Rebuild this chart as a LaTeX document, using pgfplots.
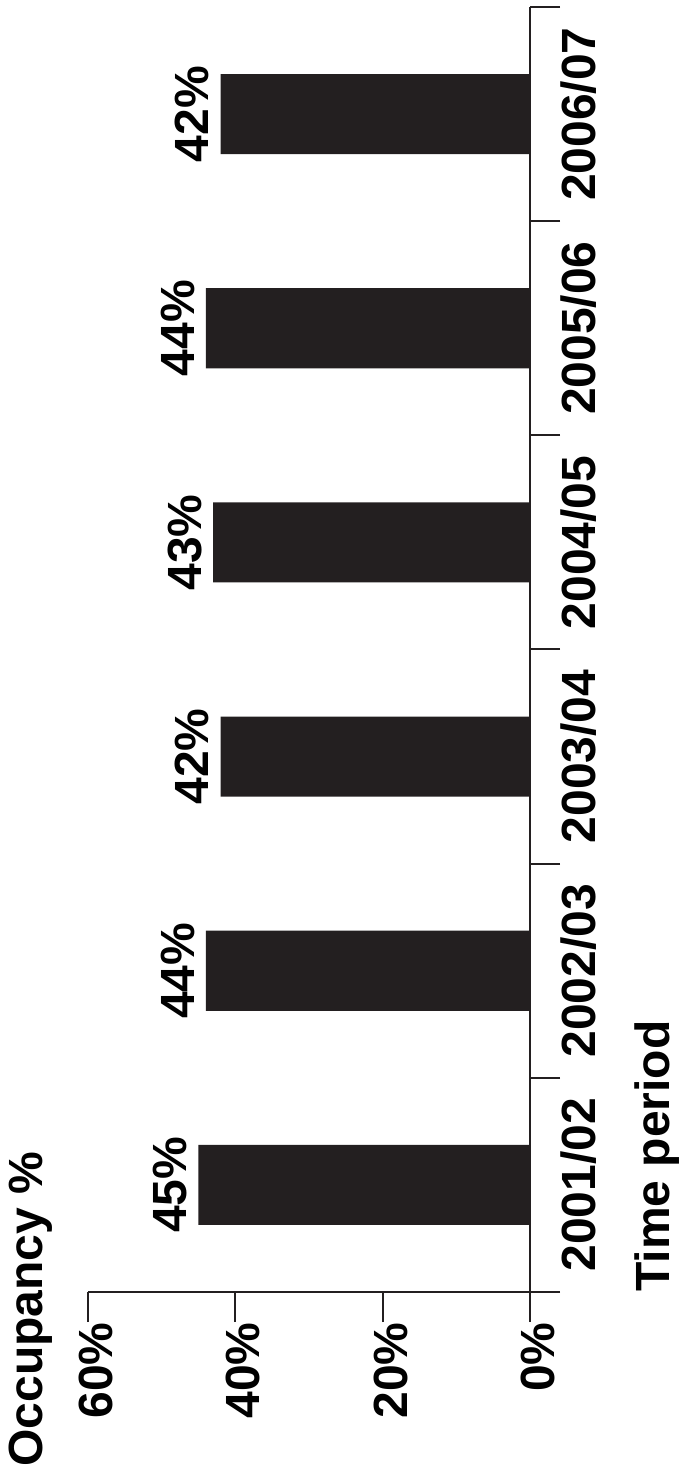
\documentclass[border=0pt]{standalone}
\usepackage{pgfplots}
\pgfplotsset{compat=1.18}
\usepackage{fontspec}
\setmainfont{Liberation Sans}
\definecolor{barblack}{HTML}{231F20}
\begin{document}
\begin{tikzpicture}[font=\fontsize{24}{28}\selectfont\bfseries]
\begin{axis}[
  xbar,
  scale only axis,
  width=221pt, height=642.5pt,
  x dir=reverse,
  xmin=0, xmax=60,
  ymin=-0.5, ymax=5.5,
  axis x line*=bottom,
  axis y line*=right,
  axis line style={line width=1pt, color=barblack},
  xtick={0,20,40,60},
  xticklabels={0\%,20\%,40\%,60\%},
  ytick={-0.5,0.5,...,5.5},
  yticklabels={2001/02,2002/03,2003/04,2004/05,2005/06,2006/07},
  y tick label as interval,
  tick align=outside,
  major tick length=15pt,
  tick style={line width=1pt, color=barblack},
  xticklabel style={rotate=90, anchor=east, inner sep=0pt, yshift=-4pt},
  yticklabel style={rotate=90, anchor=north, inner sep=0pt},
  bar width=0.374,
  nodes near coords={\pgfmathprintnumber{\pgfplotspointmeta}\%},
  nodes near coords style={rotate=90, anchor=south, inner sep=5.5pt, color=black},
  /pgf/number format/assume math mode=true,
  clip=false,
]
\addplot[fill=barblack, draw=none] coordinates {(45,0) (44,1) (42,2) (43,3) (44,4) (42,5)};
\coordinate (A) at (axis cs:60,-0.5);
\coordinate (B) at (axis cs:0,5.5);
\node[rotate=90, anchor=north west, inner sep=0pt] at ([shift={(52pt,0pt)}]axis cs:0,-0.5) {Time period};
\node[rotate=90, anchor=north west, inner sep=0pt] at ([shift={(-39.5pt,-87.5pt)}]axis cs:60,-0.5) {Occupancy \%};
\end{axis}
\pgfresetboundingbox
\useasboundingbox ([shift={(-44pt,-92pt)}]A) rectangle ([shift={(74.5pt,3.5pt)}]B);
\end{tikzpicture}
\end{document}
